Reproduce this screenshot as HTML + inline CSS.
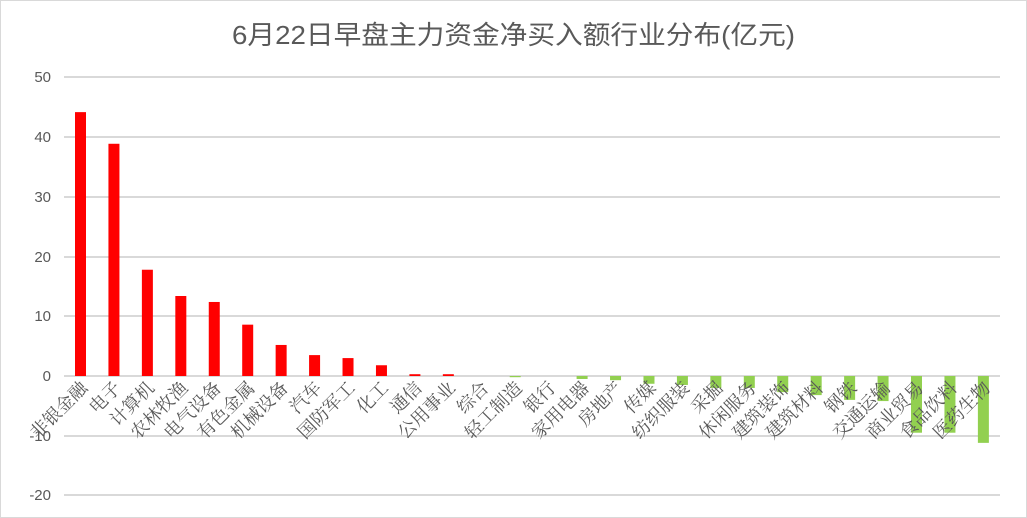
<!DOCTYPE html>
<html><head><meta charset="utf-8"><style>body{margin:0;background:#fff}svg{display:block}</style></head>
<body>
<svg width="1027" height="518" xmlns="http://www.w3.org/2000/svg">
<rect x="0.5" y="0.5" width="1026" height="517" fill="#fff" stroke="#d9d9d9"/>
<text x="232" y="44" textLength="563" lengthAdjust="spacingAndGlyphs" font-family="Liberation Sans, Noto Sans CJK SC, sans-serif" font-size="26" fill="#595959">6月22日早盘主力资金净买入额行业分布(亿元)</text>
<g stroke="#d9d9d9" stroke-width="2">
<line x1="64" x2="1000" y1="77" y2="77"/><line x1="64" x2="1000" y1="137" y2="137"/><line x1="64" x2="1000" y1="197" y2="197"/><line x1="64" x2="1000" y1="257" y2="257"/><line x1="64" x2="1000" y1="316" y2="316"/><line x1="64" x2="1000" y1="376" y2="376"/><line x1="64" x2="1000" y1="436" y2="436"/><line x1="64" x2="1000" y1="495" y2="495"/>
</g>
<g font-family="Liberation Sans, sans-serif" font-size="15" fill="#595959" text-anchor="end">
<text x="51" y="82">50</text><text x="51" y="142">40</text><text x="51" y="202">30</text><text x="51" y="262">20</text><text x="51" y="321">10</text><text x="51" y="381">0</text><text x="51" y="441">-10</text><text x="51" y="500">-20</text>
</g>
<g id="bars"></g>
<g id="labels" font-family="Liberation Serif, Noto Serif CJK SC, serif" font-size="18" fill="#595959" text-anchor="end"></g>
<script>
var names=["非银金融","电子","计算机","农林牧渔","电气设备","有色金属","机械设备","汽车","国防军工","化工","通信","公用事业","综合","轻工制造","银行","家用电器","房地产","传媒","纺织服装","采掘","休闲服务","建筑装饰","建筑材料","钢铁","交通运输","商业贸易","食品饮料","医药生物"];
var vals=[44.2,38.9,17.8,13.4,12.4,8.6,5.2,3.5,3.0,1.8,0.3,0.3,0,-0.2,0,-0.5,-0.7,-1.3,-1.5,-2,-2,-2.7,-3.2,-4,-4.2,-9.5,-9.5,-11.2];
var ns="http://www.w3.org/2000/svg",b=document.getElementById("bars"),l=document.getElementById("labels");
for(var i=0;i<28;i++){var cx=80.5+i*33.44,v=vals[i],h=Math.abs(v)*5.97,y0=376;
var r=document.createElementNS(ns,"rect");r.setAttribute("x",cx-5.5);r.setAttribute("width",11);
if(v>=0){r.setAttribute("y",y0-h);r.setAttribute("height",h);r.setAttribute("fill","#ff0000");}
else{r.setAttribute("y",y0);r.setAttribute("height",h);r.setAttribute("fill","#92d050");}
b.appendChild(r);
var t=document.createElementNS(ns,"text");var tx=cx+8,ty=389;t.setAttribute("x",tx);t.setAttribute("y",ty);
t.setAttribute("transform","rotate(-45 "+tx+" "+ty+")");t.textContent=names[i];l.appendChild(t);}
</script>
</svg>
</body></html>
